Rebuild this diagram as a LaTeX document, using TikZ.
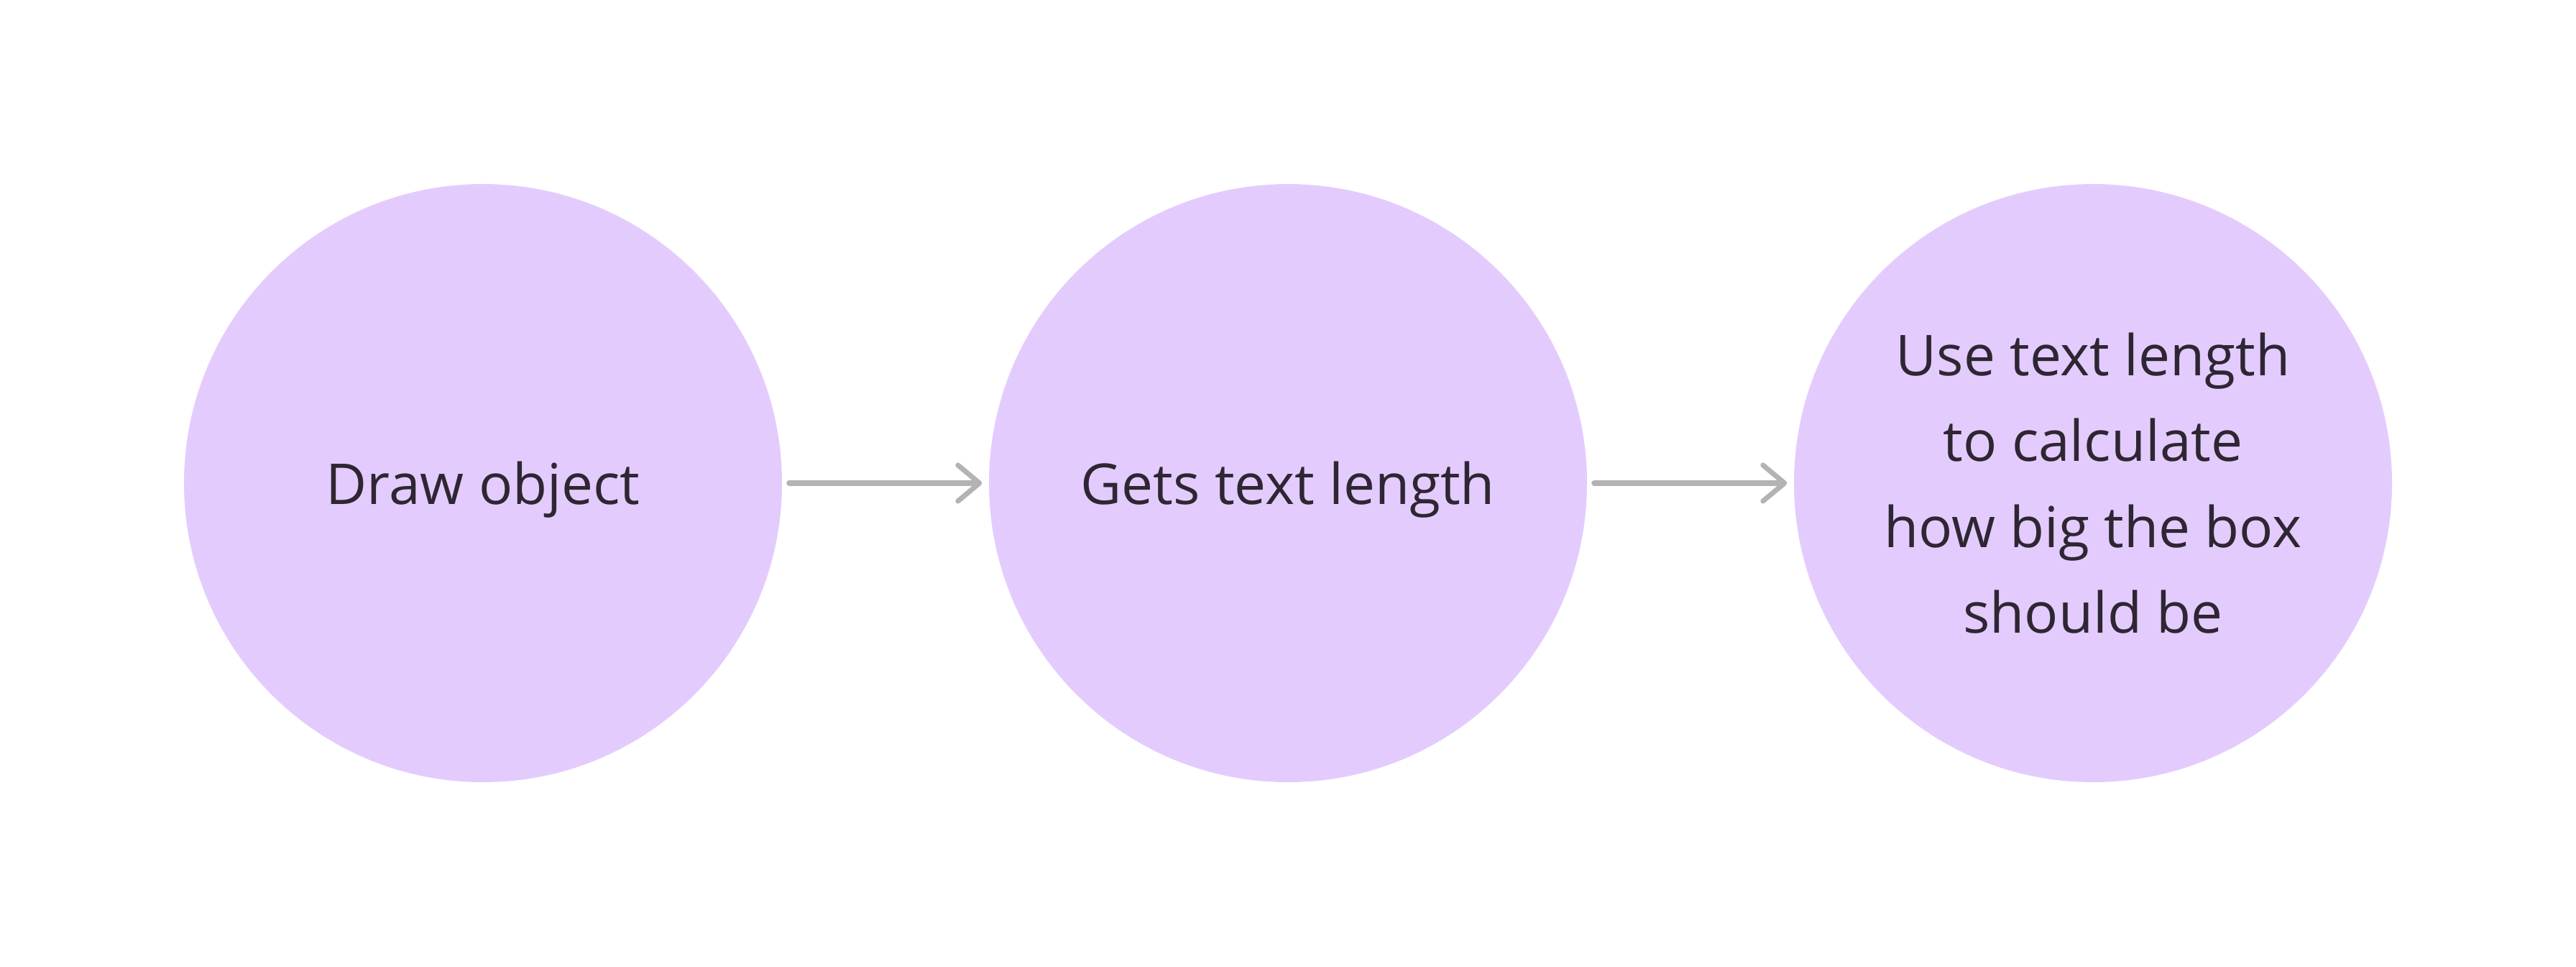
\documentclass[tikz,border=0pt]{standalone}
\usepackage{fontspec}
\setmainfont{Open Sans}
\usetikzlibrary{arrows.meta}
\definecolor{circfill}{HTML}{E3CCFD}
\definecolor{txt}{HTML}{2E2632}
\definecolor{arr}{HTML}{B3B3B3}
\tikzset{
  stage/.style={circle, fill=circfill, draw=none, minimum size=8.32cm, inner sep=0pt,
    text=txt, font=\fontsize{22.3}{34}\selectfont, align=center},
  flow/.style={draw=arr, line width=2pt, line cap=round,
    -{Straight Barb[length=0.3cm, width=0.5cm, line cap=round, line join=round]},
    shorten <=0.09cm, shorten >=0.09cm}
}
\begin{document}
\begin{tikzpicture}
\useasboundingbox (0,0) rectangle (35.84,13.45);
\node[stage, text depth=0pt] (a) at (6.72,6.73) {Draw object};
\node[stage, text depth=0pt] (b) at (17.92,6.73) {Gets text length};
\node[stage] (c) at (29.12,6.73) {Use text length\\to calculate\\how big the box\\should be};
\draw[flow] (a.east) -- (b.west);
\draw[flow] (b.east) -- (c.west);
\end{tikzpicture}
\end{document}
